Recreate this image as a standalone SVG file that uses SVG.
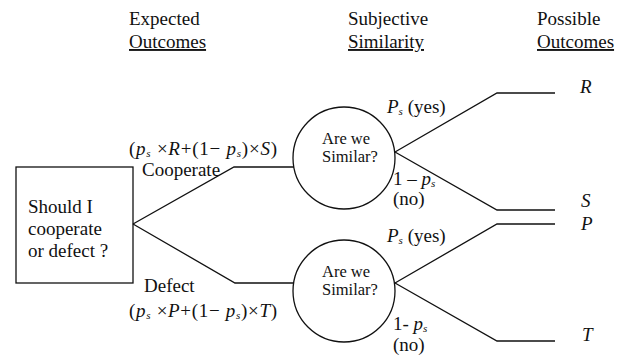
<svg xmlns="http://www.w3.org/2000/svg" width="627" height="355" viewBox="0 0 627 355">
<style>
text{font-family:"Liberation Serif","Times New Roman",serif;fill:#111;}
.h{font-size:19px;}
.n{font-size:19px;}
.c{font-size:16.5px;}
.i{font-style:italic;}
.sub{font-size:11px;font-style:italic;}
.ln{fill:none;stroke:#111;stroke-width:1.3;}
</style>
<rect width="627" height="355" fill="#fff"/>
<g id="headers">
<text class="h" x="129" y="25">Expected</text>
<text class="h" x="129" y="48" text-decoration="underline">Outcomes</text>
<text class="h" x="348" y="25">Subjective</text>
<text class="h" x="348" y="48" text-decoration="underline">Similarity</text>
<text class="h" x="537" y="25">Possible</text>
<text class="h" x="537" y="48" text-decoration="underline">Outcomes</text>
</g>
<g id="decision">
<rect class="ln" x="16" y="167" width="117" height="116"/>
<text class="n" x="28" y="213">Should I</text>
<text class="n" x="28" y="235">cooperate</text>
<text class="n" x="28" y="257">or defect ?</text>
</g>
<g id="similar1">
<circle class="ln" cx="344" cy="158" r="51"/>
<text class="c" x="322" y="144">Are we</text>
<text class="c" x="322" y="162">Similar?</text>
</g>
<g id="similar2">
<circle class="ln" cx="344" cy="291" r="51"/>
<text class="c" x="322" y="277">Are we</text>
<text class="c" x="322" y="295">Similar?</text>
</g>
<g id="outcomes">
<text class="n i" x="580" y="93">R</text>
<text class="n i" x="581" y="207">S</text>
<text class="n i" x="581" y="230">P</text>
<text class="n i" x="582" y="341">T</text>
</g>
<g id="connectors">
<polyline class="ln" points="133,224 234,167 294,167"/>
<polyline class="ln" points="133,224 235,283 293,283"/>
<polyline class="ln" points="395,152 497,93 555,93"/>
<polyline class="ln" points="395,152 497,210 555,210"/>
<polyline class="ln" points="395,283 497,224 555,224"/>
<polyline class="ln" points="395,283 497,341 555,341"/>
</g>
<g id="labels">
<text class="n" x="129" y="155" textLength="148" lengthAdjust="spacing">(<tspan class="i">p</tspan><tspan class="sub" dy="2">s</tspan><tspan dy="-2"> ×</tspan><tspan class="i">R</tspan>+(1− <tspan class="i">p</tspan><tspan class="sub" dy="2">s</tspan><tspan dy="-2">)×</tspan><tspan class="i">S</tspan>)</text>
<text class="n" x="142" y="176">Cooperate</text>
<text class="n" x="144" y="292">Defect</text>
<text class="n" x="129" y="317" textLength="148" lengthAdjust="spacing">(<tspan class="i">p</tspan><tspan class="sub" dy="2">s</tspan><tspan dy="-2"> ×</tspan><tspan class="i">P</tspan>+(1− <tspan class="i">p</tspan><tspan class="sub" dy="2">s</tspan><tspan dy="-2">)×</tspan><tspan class="i">T</tspan>)</text>
<text class="n" x="387" y="113"><tspan class="i">P</tspan><tspan class="sub" dy="2">s</tspan><tspan dy="-2"> (yes)</tspan></text>
<text class="n" x="393" y="185">1 – <tspan class="i">p</tspan><tspan class="sub" dy="2">s</tspan></text>
<text class="n" x="393" y="205">(no)</text>
<text class="n" x="387" y="242"><tspan class="i">P</tspan><tspan class="sub" dy="2">s</tspan><tspan dy="-2"> (yes)</tspan></text>
<text class="n" x="393" y="330">1- <tspan class="i">p</tspan><tspan class="sub" dy="2">s</tspan></text>
<text class="n" x="393" y="351">(no)</text>
</g>
</svg>
